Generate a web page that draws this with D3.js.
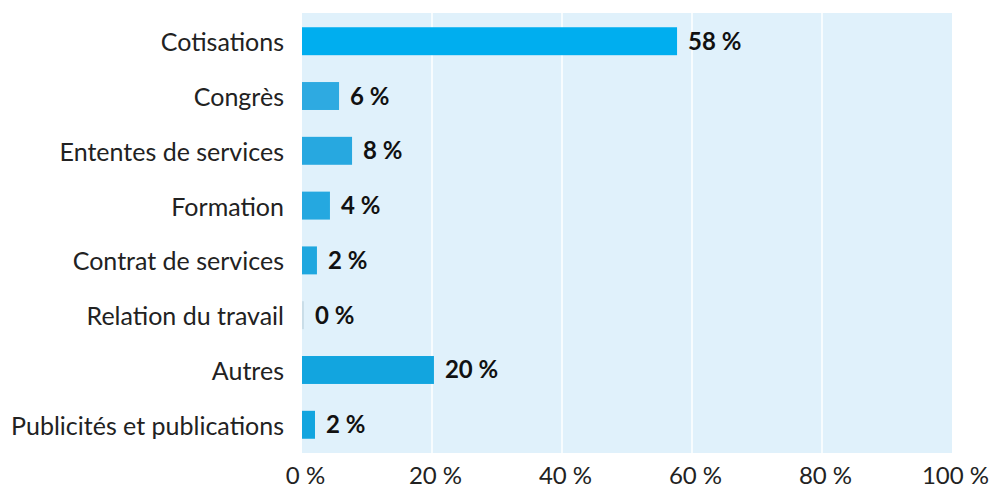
<!DOCTYPE html>
<html><head><meta charset="utf-8">
<script src="https://cdn.jsdelivr.net/npm/d3@7"></script>
<style>body{margin:0;background:#fff}text{font-family:Lato,"Open Sans",sans-serif}</style>
</head><body><svg id="c" width="989" height="489"></svg>
<script>
const categories = ["Cotisations","Congrès","Ententes de services","Formation","Contrat de services","Relation du travail","Autres","Publicités et publications"];
const values = [57.7, 5.7, 7.7, 4.3, 2.3, 0.3, 20.3, 2.0];
const valueLabels = ["58 %","6 %","8 %","4 %","2 %","0 %","20 %","2 %"];
const barColors = ["#00aeef","#2eaae1","#27a8e0","#25a8e0","#1fa7df","#c9dde8","#12a5df","#12a5df"];
const ticks = [0,20,40,60,80,100];

const svg = d3.select("#c");
const m = {left:302, right:952, top:13, bottom:453};
const x = d3.scaleLinear().domain([0,100]).range([m.left,m.right]);
const y = d3.scaleBand().domain(categories).range([m.top,m.bottom]).paddingInner(0.49).paddingOuter(0.26);

svg.append("rect").attr("x",m.left).attr("y",m.top).attr("width",m.right-m.left).attr("height",m.bottom-m.top).attr("fill","#e0f1fb");
svg.selectAll("line.grid").data(ticks.slice(1,-1)).enter().append("line")
  .attr("x1",d=>x(d)).attr("x2",d=>x(d)).attr("y1",m.top).attr("y2",m.bottom)
  .attr("stroke","#fff").attr("stroke-width",1.5);

svg.selectAll("rect.bar").data(categories).enter().append("rect")
  .attr("x",x(0)).attr("y",d=>y(d)).attr("height",y.bandwidth())
  .attr("width",(d,i)=>x(values[i])-x(0)).attr("fill",(d,i)=>barColors[i]);

svg.selectAll("text.val").data(categories).enter().append("text")
  .attr("x",(d,i)=>x(values[i])+11).attr("y",d=>y(d)+y.bandwidth()/2+8.5)
  .attr("font-size",24).attr("font-weight","bold").attr("fill","#111")
  .text((d,i)=>valueLabels[i]);

svg.selectAll("text.cat").data(categories).enter().append("text")
  .attr("x",284).attr("y",d=>y(d)+y.bandwidth()/2+10)
  .attr("text-anchor","end").attr("font-size",25).attr("fill","#222").text(d=>d);

const ax = svg.append("g").attr("transform",`translate(3,${m.bottom})`)
  .call(d3.axisBottom(x).tickValues(ticks).tickSize(0).tickPadding(14).tickFormat(d=>d+" %"));
ax.select(".domain").remove();
ax.selectAll("text").attr("font-size",24).attr("fill","#222").style("font-family","Lato,'Open Sans',sans-serif");
</script></body></html>
